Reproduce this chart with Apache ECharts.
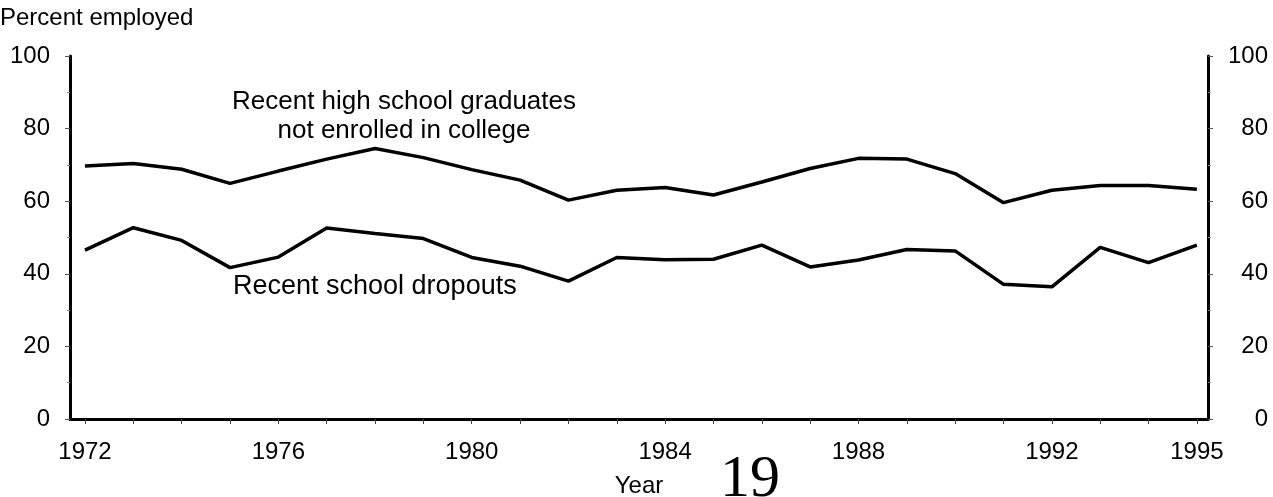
<!DOCTYPE html>
<html>
<head>
<meta charset="utf-8">
<script src="https://cdn.jsdelivr.net/npm/echarts@6/dist/echarts.min.js"></script>
<style>
  html, body { margin: 0; padding: 0; background: #fff; }
  #chart { width: 1273px; height: 497px; }
</style>
</head>
<body>
<div id="chart"></div>
<script>
// years on the x axis
const years = [1972, 1973, 1974, 1975, 1976, 1977, 1978, 1979, 1980, 1981, 1982, 1983,
  1984, 1985, 1986, 1987, 1988, 1989, 1990, 1991, 1992, 1993, 1994, 1995];

// percent employed
const graduates = [69.7, 70.4, 68.8, 64.9, 68.3, 71.6, 74.5, 72.0, 68.7, 65.8, 60.3, 63.0,
  63.8, 61.7, 65.3, 69.0, 71.8, 71.6, 67.6, 59.6, 63.0, 64.3, 64.3, 63.3];
const dropouts = [46.5, 52.7, 49.2, 41.7, 44.6, 52.6, 51.1, 49.7, 44.5, 42.1, 38.0, 44.5,
  43.9, 44.0, 47.9, 41.9, 43.8, 46.7, 46.3, 37.1, 36.4, 47.3, 43.1, 47.9];

// labelled years on the x axis
const yearLabels = [1972, 1976, 1980, 1984, 1988, 1992, 1995];

const font = 'Liberation Sans';

function pairs(vals) {
  return years.map((y, i) => [y, vals[i]]);
}

const yAxisBase = {
  type: 'value',
  min: 0,
  max: 100,
  interval: 20,
  splitLine: { show: false },
  axisLine: { show: true, lineStyle: { color: '#000', width: 3 } },
  axisTick: { show: true, length: 5, lineStyle: { color: '#555', width: 1 } },
  minorTick: { show: true, splitNumber: 2, length: 3, lineStyle: { color: '#888', width: 1 } },
  axisLabel: { color: '#000', fontFamily: font, fontSize: 24, margin: 20 }
};

const chart = echarts.init(document.getElementById('chart'));
chart.setOption({
  animation: false,
  backgroundColor: '#fff',
  grid: { left: 70, right: 65, top: 56, bottom: 78, containLabel: false, outerBoundsMode: 'none' },
  xAxis: {
    type: 'value',
    min: 1971.69,
    max: 1995.23,
    splitLine: { show: false },
    axisLine: { show: true, lineStyle: { color: '#000', width: 3 } },
    axisTick: { show: true, length: 5, customValues: years, lineStyle: { color: '#444', width: 1 } },
    axisLabel: {
      customValues: yearLabels,
      color: '#000', fontFamily: font, fontSize: 24, margin: 21,
      formatter: v => String(v)
    },
    name: 'Year',
    nameLocation: 'middle',
    nameGap: 55,
    nameTextStyle: { color: '#000', fontFamily: font, fontSize: 24 }
  },
  yAxis: [
    Object.assign({}, yAxisBase, { position: 'left' }),
    Object.assign({}, yAxisBase, {
      position: 'right',
      axisLabel: { color: '#000', fontFamily: font, fontSize: 24, margin: 60, align: 'right' }
    })
  ],
  series: [
    {
      name: 'Recent high school graduates not enrolled in college',
      type: 'line',
      data: pairs(graduates),
      showSymbol: false,
      lineStyle: { color: '#000', width: 3.5 }
    },
    {
      name: 'Recent school dropouts',
      type: 'line',
      data: pairs(dropouts),
      showSymbol: false,
      lineStyle: { color: '#000', width: 3.5 }
    }
  ],
  graphic: [
    {
      type: 'text', left: 0, top: 6,
      style: { text: 'Percent employed', fill: '#000', font: '24px "Liberation Sans"' }
    },
    {
      type: 'text', x: 404, y: 116,
      style: {
        text: 'Recent high school graduates\nnot enrolled in college',
        fill: '#000', font: '26px "Liberation Sans"', align: 'center', verticalAlign: 'middle',
        lineHeight: 29
      }
    },
    {
      type: 'text', x: 233, y: 287,
      style: { text: 'Recent school dropouts', fill: '#000', font: '27px "Liberation Sans"', verticalAlign: 'middle' }
    },
    {
      type: 'text', x: 720, y: 450,
      style: { text: '19', fill: '#000', font: '60px "Liberation Serif"', verticalAlign: 'top' }
    }
  ]
});
</script>
</body>
</html>
